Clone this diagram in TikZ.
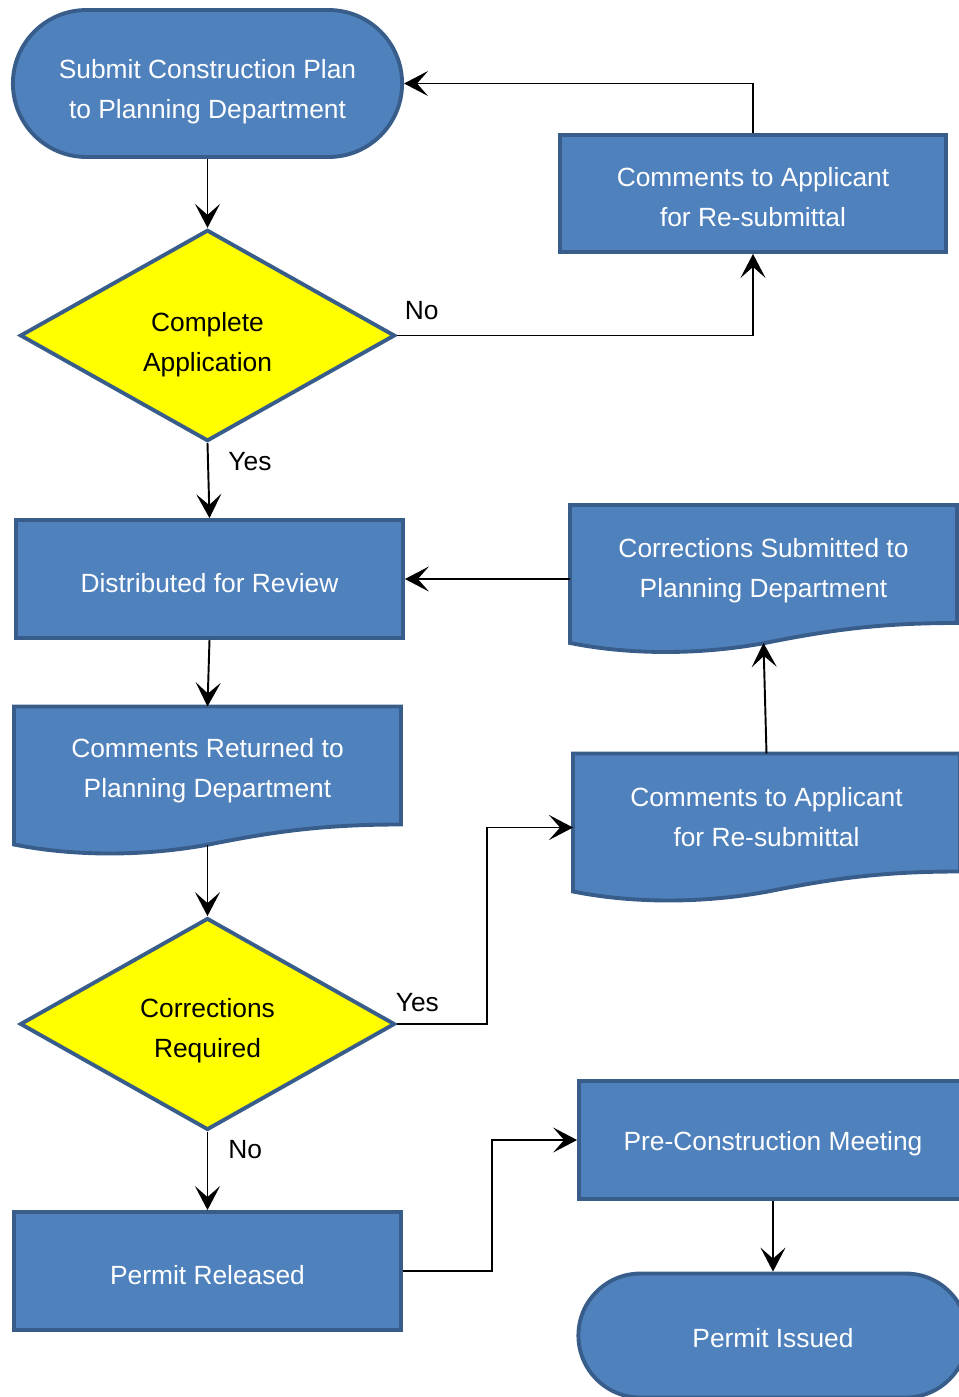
\documentclass[tikz,border=0pt]{standalone}
\usepackage{fontspec}
\setmainfont{Liberation Sans}
\usepackage{xcolor}
\usepackage{tikz}
\usetikzlibrary{arrows.meta, positioning, shapes.geometric, shapes.misc, backgrounds, calc}
\definecolor{pfBlue}{RGB}{79,129,189}
\definecolor{pfEdge}{RGB}{56,93,138}
\definecolor{pfYellow}{RGB}{255,255,0}
\newcommand{\vgap}[1]{\rule{0pt}{#1}}
\newcommand{\docwave}[1]{%
  \begin{scope}[on background layer]
    \draw[docline] (#1.north west) -- (#1.north east) -- (#1.south east)
      .. controls ($(#1.south east)+(-77,0)$) and ($(#1.south east)+(-127,7)$) .. ($(#1.south east)+(-192,20)$)
      .. controls ($(#1.south east)+(-257,32)$) and ($(#1.south east)+(-327,32)$) .. ($(#1.south west)+(0,20)$)
      -- cycle;
  \end{scope}}

\begin{document}
\begin{tikzpicture}[x=0.02cm, y=-0.02cm,
    font=\fontsize{15}{22.8}\selectfont,
    procbox/.style={rectangle, draw=pfEdge, fill=pfBlue, line width=2.2pt, text=white,
      align=center, minimum width=7.74cm, minimum height=2.36cm},
    termbox/.style={rounded rectangle, draw=pfEdge, fill=pfBlue, line width=2.2pt, text=white,
      align=center, minimum width=8.02cm, minimum height=2.94cm},
    docbox/.style={rectangle, text=white, align=center, minimum width=7.74cm,
      minimum height=2.36cm, outer sep=0pt},
    docline/.style={draw=pfEdge, fill=pfBlue, line width=2.2pt},
    choice/.style={diamond, draw=pfEdge, fill=pfYellow, line width=2.2pt, align=center,
      minimum width=7.5cm, minimum height=4.22cm, inner sep=0pt},
    flow/.style={-{Stealth[length=0.48cm,width=0.5cm,inset=0.22cm]}, line width=1.1pt},
    lbl/.style={inner sep=0pt, font=\fontsize{15}{18}\selectfont}
  ]
    \useasboundingbox (0,0) rectangle (959,1397);
    \clip (0,0) rectangle (959,1397);
    \node[termbox] (submit) at (207.5,83.5) {\vgap{20pt}Submit Construction Plan\\to Planning Department};
    \node[procbox, minimum width=7.72cm, minimum height=2.34cm] (resub) at (753,193.5) {\vgap{14.5pt}Comments to Applicant\\for Re-submittal};
    \node[choice] (complete) at (207.5,335.5) {\vgap{21pt}Complete\\Application};
    \node[procbox] (review) at (209.5,579) {\vgap{15.5pt}Distributed for Review};
    \node[docbox] (corrsub) at (763.5,564) {\vgap{19pt}Corrections Submitted to\\Planning Department};
    \node[docbox] (returned) at (207.5,765.5) {\vgap{16.6pt}Comments Returned to\\Planning Department};
    \node[docbox] (comments) at (766.5,812.5) {\vgap{15.6pt}Comments to Applicant\\for Re-submittal};
    \node[choice] (corrreq) at (207.5,1024) {\vgap{18pt}Corrections\\Required};
    \node[procbox] (released) at (207.5,1271) {\vgap{15.5pt}Permit Released};
    \node[procbox, minimum width=7.76cm] (precon) at (773,1140) {\vgap{15.5pt}Pre-Construction Meeting};
    \node[termbox, minimum height=2.48cm] (issued) at (773,1335.5) {\vgap{14pt}Permit Issued};
    \docwave{corrsub}
    \docwave{returned}
    \docwave{comments}

    \draw[flow] (submit.south) -- (complete.north);
    \draw[flow] (complete.east) node[lbl, anchor=south west, xshift=0.14cm, yshift=0.3cm] {No} -| (resub.south);
    \draw[flow] (resub.north) |- (submit.east);
    \draw[flow] (complete.south) node[lbl, anchor=north west, xshift=0.4cm, yshift=-0.16cm] {Yes} -- (review.north);
    \draw[flow] (review.east -| corrsub.west) -- (review.east);
    \draw[flow] (review.south) -- (returned.north);
    \draw[flow] ($(returned.south)+(0,20)$) -- (corrreq.north);
    \draw[flow] (corrreq.east) node[lbl, anchor=south west, xshift=-0.04cm, yshift=0.22cm] {Yes} -- ++(90,0) |- ($(comments.west)+(0,15)$);
    \draw[flow] (comments.north) -- ($(corrsub.south)+(0,20)$);
    \draw[flow] (corrreq.south) node[lbl, anchor=north west, xshift=0.4cm, yshift=-0.16cm] {No} -- (released.north);
    \draw[flow] (released.east) -- ++(89,0) |- (precon.west);
    \draw[flow] (precon.south) -- (issued.north);
  \end{tikzpicture}
\end{document}
